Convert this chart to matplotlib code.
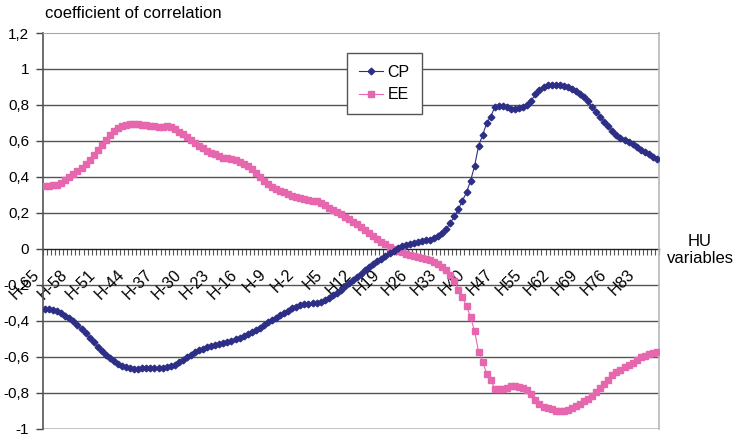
import matplotlib
matplotlib.use("Agg")
import matplotlib.pyplot as plt
import matplotlib.transforms as mtransforms

plt.rcParams['font.family'] = ['Liberation Sans', 'DejaVu Sans']

# categories: H-65 .. H47, H49 .. H87
categories = ["H%d" % k for k in range(-65, 48)] + ["H%d" % k for k in range(49, 88)]

cp = [
    -0.335, -0.336, -0.339, -0.348, -0.360, -0.373, -0.388, -0.404, -0.425, -0.447,
    -0.470, -0.495, -0.520, -0.545, -0.570, -0.592, -0.610, -0.626, -0.642, -0.652,
    -0.660, -0.666, -0.668, -0.667, -0.665, -0.664, -0.663, -0.663, -0.663, -0.662,
    -0.660, -0.655, -0.645, -0.632, -0.617, -0.602, -0.589, -0.577, -0.565, -0.555,
    -0.546, -0.539, -0.533, -0.528, -0.524, -0.519, -0.512, -0.504, -0.496, -0.486,
    -0.474, -0.462, -0.451, -0.440, -0.425, -0.410, -0.396, -0.383, -0.370, -0.357,
    -0.344, -0.332, -0.322, -0.315, -0.310, -0.307, -0.304, -0.301, -0.297, -0.287,
    -0.274, -0.260, -0.244, -0.228, -0.209, -0.190, -0.172, -0.155, -0.138, -0.121,
    -0.104, -0.087, -0.070, -0.055, -0.038, -0.024, -0.010, 0.004, 0.014, 0.023,
    0.029, 0.034, 0.038, 0.042, 0.046, 0.051, 0.060, 0.072, 0.088, 0.110,
    0.143, 0.180, 0.220, 0.268, 0.313, 0.378, 0.461, 0.574, 0.633, 0.700,
    0.735, 0.790, 0.794, 0.794, 0.787, 0.780, 0.778, 0.784, 0.790, 0.800,
    0.824, 0.859, 0.885, 0.900, 0.908, 0.912, 0.913, 0.911, 0.907, 0.900,
    0.890, 0.878, 0.863, 0.843, 0.820, 0.790, 0.762, 0.735, 0.707, 0.680,
    0.655, 0.632, 0.618, 0.605, 0.592, 0.580, 0.566, 0.550, 0.538, 0.525,
    0.513, 0.500,
]

ee = [
    0.350, 0.350, 0.352, 0.355, 0.365, 0.380, 0.400, 0.415, 0.432, 0.450,
    0.470, 0.495, 0.520, 0.548, 0.577, 0.605, 0.630, 0.655, 0.672, 0.683,
    0.690, 0.694, 0.695, 0.694, 0.690, 0.686, 0.683, 0.680, 0.679, 0.679,
    0.680, 0.675, 0.665, 0.652, 0.636, 0.620, 0.603, 0.587, 0.572, 0.558,
    0.545, 0.535, 0.525, 0.515, 0.507, 0.503, 0.499, 0.493, 0.484, 0.472,
    0.460, 0.442, 0.420, 0.397, 0.374, 0.358, 0.343, 0.330, 0.322, 0.313,
    0.303, 0.296, 0.288, 0.280, 0.275, 0.271, 0.267, 0.263, 0.254, 0.242,
    0.229, 0.216, 0.204, 0.192, 0.179, 0.165, 0.151, 0.137, 0.122, 0.105,
    0.090, 0.073, 0.056, 0.040, 0.025, 0.012, 0.000, -0.010, -0.019, -0.027,
    -0.034, -0.040, -0.045, -0.050, -0.057, -0.064, -0.073, -0.085, -0.100, -0.118,
    -0.145, -0.180, -0.228, -0.270, -0.320, -0.380, -0.460, -0.574, -0.630, -0.696,
    -0.730, -0.780, -0.782, -0.780, -0.772, -0.762, -0.762, -0.768, -0.772, -0.785,
    -0.810, -0.840, -0.862, -0.878, -0.888, -0.894, -0.900, -0.904, -0.902, -0.895,
    -0.886, -0.876, -0.864, -0.848, -0.834, -0.818, -0.797, -0.774, -0.751, -0.728,
    -0.705, -0.685, -0.672, -0.660, -0.648, -0.633, -0.617, -0.605, -0.594, -0.586,
    -0.580, -0.576,
]

y_ticks = [-1.0, -0.8, -0.6, -0.4, -0.2, 0.0, 0.2, 0.4, 0.6, 0.8, 1.0, 1.2]
y_tick_labels = ['-1', '-0,8', '-0,6', '-0,4', '-0,2', '0', '0,2', '0,4', '0,6', '0,8', '1', '1,2']
label_step = 7

fig = plt.figure(figsize=(7.34, 4.36), dpi=100)
ax = fig.add_axes([43/734, 1-428.5/436, (659-43)/734, (428.5-33)/436])

x = list(range(len(categories)))
cp_color = '#2d2f86'
ee_color = '#e667ad'
ax.plot(x, cp, color=cp_color, lw=0.8, marker='D', ms=3.4, mec=cp_color, mfc=cp_color, label='CP', zorder=4)
ax.plot(x, ee, color=ee_color, lw=0.8, marker='s', ms=4.5, mec=ee_color, mfc=ee_color, label='EE', zorder=3)

ax.set_xlim(-0.5, len(categories) - 0.5)
ax.set_ylim(-1.0, 1.2)

for yv in y_ticks:
    if yv not in (0.0, 1.2, -1.0):
        ax.axhline(yv, color='#555555', lw=1.0, zorder=1)

ax.set_yticks(y_ticks)
ax.set_yticklabels(y_tick_labels, fontsize=11)
ax.tick_params(axis='y', direction='out', length=5, width=1, color='#444444', pad=5)

ax.spines['bottom'].set_position(('data', 0))
ax.spines['bottom'].set_color('#222222')
ax.spines['bottom'].set_linewidth(1.0)
ax.spines['bottom'].set_zorder(2)
ax.spines['left'].set_color('#555555')
ax.spines['left'].set_linewidth(1.2)
ax.spines['top'].set_color('#a8a8a8')
ax.spines['right'].set_color('#b8b8b8')
ax.spines['right'].set_linewidth(1.2)
ax.axhline(-1.0, color='#b8b8b8', lw=1.2, zorder=1)

major = list(range(0, len(categories), label_step))
ax.set_xticks(major)
ax.set_xticklabels([categories[i] for i in major], fontsize=11.5)
ax.set_xticks([i - 0.5 for i in range(len(categories) + 1)], minor=True)
ax.tick_params(axis='x', which='major', length=0, pad=13)
ax.tick_params(axis='x', which='minor', direction='out', length=4, width=0.8, color='#555555')

offset = mtransforms.ScaledTranslation(-3/100, 0, fig.dpi_scale_trans)
for lab in ax.get_xticklabels():
    lab.set_rotation(45)
    lab.set_ha('right')
    lab.set_va('top')
    lab.set_transform(lab.get_transform() + offset)

leg = ax.legend(loc='upper left', bbox_to_anchor=((347-43)/616, (428.5-53)/395.5), fontsize=11.5,
                frameon=True, fancybox=False, edgecolor='#555555', framealpha=1,
                handlelength=1.5, handletextpad=0.3, borderpad=0.75, labelspacing=0.45,
                borderaxespad=0)
leg.get_frame().set_linewidth(1.0)

fig.text(45/734, 1-13/436, 'coefficient of correlation', fontsize=12, ha='left', va='center')
fig.text(700/734, 1-250/436, 'HU\nvariables', fontsize=12, ha='center', va='center', linespacing=1.2)

fig.savefig('out.png', dpi=100)
